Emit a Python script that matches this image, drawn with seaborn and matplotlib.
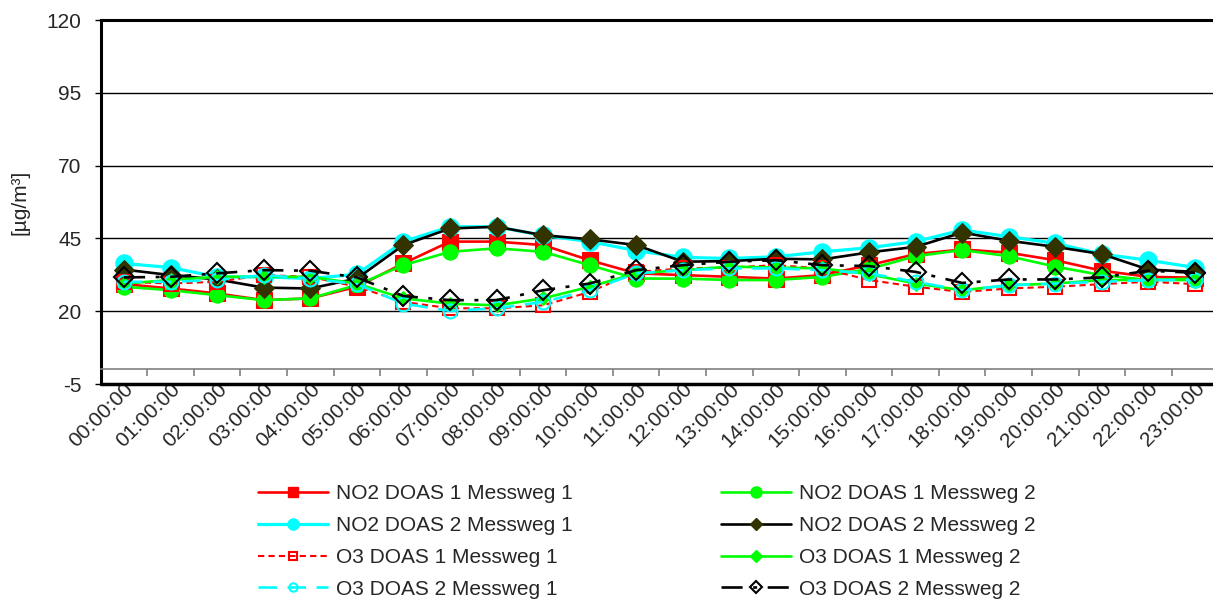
import numpy as np
import pandas as pd
import matplotlib
matplotlib.use("Agg")
import matplotlib.pyplot as plt
from matplotlib.lines import Line2D
from matplotlib.ticker import FixedLocator
import seaborn as sns

sns.set_style("white")
plt.rcParams['font.family'] = ['Liberation Sans', 'DejaVu Sans']
plt.rcParams['axes.unicode_minus'] = False

# hourly means, µg/m³
hours = ["%02d:00:00" % h for h in range(24)]

no2_d1_mw1 = [29.3, 27.8, 26.1, 23.8, 24.4, 28.4, 36.4, 43.9, 43.9, 42.7, 37.5, 33.0,
              32.4, 31.8, 31.2, 32.4, 35.8, 39.6, 41.2, 40.1, 37.5, 33.9, 31.8, 31.5]
no2_d1_mw2 = [28.4, 27.2, 25.5, 23.8, 24.4, 29.0, 35.8, 40.4, 41.6, 40.4, 35.8, 31.2,
              31.2, 30.7, 30.7, 31.8, 34.5, 38.9, 41.0, 38.9, 35.3, 32.4, 30.7, 30.7]
no2_d2_mw1 = [36.4, 35.0, 31.8, 31.8, 31.2, 32.7, 43.9, 49.0, 49.0, 46.0, 43.9, 40.8,
              38.5, 38.1, 38.7, 40.4, 41.8, 43.9, 47.9, 45.6, 43.3, 39.6, 37.5, 35.0]
no2_d2_mw2 = [34.3, 32.4, 30.9, 28.1, 27.8, 31.2, 42.7, 48.4, 49.0, 46.1, 44.7, 42.7,
              37.0, 37.2, 38.0, 37.8, 40.2, 42.1, 47.0, 44.2, 42.1, 39.6, 34.3, 33.5]
o3_d1_mw1 = [30.1, 29.5, 30.1, 32.4, 31.8, 28.4, 23.2, 21.0, 21.0, 22.0, 26.6, 33.5,
             34.7, 35.0, 35.8, 34.7, 30.7, 28.4, 26.6, 27.8, 28.4, 29.3, 30.1, 29.3]
o3_d1_mw2 = [29.5, 30.7, 31.8, 31.8, 31.8, 29.5, 24.4, 22.6, 22.0, 24.4, 28.4, 33.0,
             34.1, 35.3, 35.0, 34.7, 32.7, 29.5, 27.2, 28.9, 29.5, 30.7, 30.7, 31.2]
o3_d2_mw1 = [30.1, 30.1, 30.7, 32.4, 31.2, 29.3, 22.6, 20.1, 21.0, 23.2, 27.2, 33.0,
             34.1, 34.7, 34.7, 34.1, 33.0, 30.1, 27.2, 28.9, 29.5, 30.1, 30.7, 30.7]
o3_d2_mw2 = [31.6, 31.8, 33.0, 34.1, 33.9, 31.6, 25.2, 23.8, 23.8, 27.2, 29.5, 34.1,
             35.8, 37.0, 37.5, 35.8, 35.5, 33.5, 29.7, 30.9, 30.9, 31.6, 33.9, 33.2]

# label, values, style (plot), legend marker size
series = [
    ("NO2 DOAS 1 Messweg 1", no2_d1_mw1,
     dict(color="#FF0000", lw=1.9, marker="s", ms=11, mfc="#FF0000", mec="#FF0000"), 7),
    ("NO2 DOAS 1 Messweg 2", no2_d1_mw2,
     dict(color="#00FF00", lw=1.9, marker="o", ms=11, mfc="#00FF00", mec="#00FF00"), 8),
    ("NO2 DOAS 2 Messweg 1", no2_d2_mw1,
     dict(color="#00FFFF", lw=2.3, marker="o", ms=12.5, mfc="#00FFFF", mec="#00FFFF"), 8),
    ("NO2 DOAS 2 Messweg 2", no2_d2_mw2,
     dict(color="#000000", lw=1.9, marker="D", ms=10, mfc="#333300", mec="#333300"), 6),
    ("O3 DOAS 1 Messweg 1", o3_d1_mw1,
     dict(color="#FF0000", lw=1.5, ls=(0, (3, 2)), marker="s", ms=10, mfc="none",
          mec="#FF0000", mew=1.5), 6),
    ("O3 DOAS 1 Messweg 2", o3_d1_mw2,
     dict(color="#00FF00", lw=1.9, marker="D", ms=7, mfc="#00FF00", mec="#00FF00"), 6),
    ("O3 DOAS 2 Messweg 1", o3_d2_mw1,
     dict(color="#00FFFF", lw=1.9, ls=(0, (7, 4)), marker="o", ms=10, mfc="none",
          mec="#00FFFF", mew=1.5), 6),
    ("O3 DOAS 2 Messweg 2", o3_d2_mw2,
     dict(color="#000000", lw=1.9, ls=(0, (8, 4, 1.5, 4)), marker="D", ms=10, mfc="none",
          mec="#000000", mew=1.5), 6),
]

x = np.arange(len(hours))

fig = plt.figure(figsize=(12.13, 6.05), dpi=100)
ax = fig.add_axes([100.7 / 1213, 1 - 384 / 605, 1117.6 / 1213, 364 / 605])

for label, vals, style, _ in series:
    df = pd.DataFrame({"x": x, "y": vals})
    sns.lineplot(data=df, x="x", y="y", ax=ax, legend=False, **style)

ax.set_xlim(-0.5, len(hours) - 0.5)
ax.set_ylim(-5, 120)
ax.set_yticks([-5, 20, 45, 70, 95, 120])
ax.grid(axis="y", color="black", lw=1)
ax.grid(axis="x", visible=False)

# x axis crosses at 0 with tick marks between categories
ax.spines["bottom"].set_position(("data", 0))
ax.spines["bottom"].set_color("#808080")
ax.spines["bottom"].set_linewidth(1.2)
ax.axhline(-5, color="black", lw=2.5, clip_on=False, zorder=3)
ax.spines["left"].set_linewidth(2.2)
ax.spines["left"].set_color("black")
ax.spines["top"].set_linewidth(2.2)
ax.spines["top"].set_color("black")
ax.spines["right"].set_visible(False)

ax.set_xticks(x)
ax.set_xticklabels(hours, rotation=45, ha="right", rotation_mode="anchor", fontsize=15)
ax.xaxis.set_minor_locator(FixedLocator(x[1:] - 0.5))
ax.tick_params(axis="x", which="major", length=0, pad=7)
ax.tick_params(axis="x", which="minor", bottom=True, length=5, width=1.2, color="#808080",
               direction="out")
ax.tick_params(axis="y", left=True, length=4, width=1, color="black", pad=10, labelsize=15)

ax.set_xlabel("")
ax.set_ylabel("[µg/m³]", fontsize=15, labelpad=12)

handles = []
labels = []
for label, vals, style, lms in series:
    st = dict(style)
    st["ms"] = lms
    handles.append(Line2D([], [], **st))
    labels.append(label)

order = [0, 2, 4, 6, 1, 3, 5, 7]
fig.legend([handles[i] for i in order], [labels[i] for i in order],
           loc="upper left", bbox_to_anchor=(258 / 1213, 1 - 484 / 605),
           ncol=2, frameon=False, fontsize=15, handlelength=3.35, handletextpad=0.4,
           columnspacing=7.1, labelspacing=0.62, borderpad=0, borderaxespad=0)

fig.savefig("out.png", dpi=100)
